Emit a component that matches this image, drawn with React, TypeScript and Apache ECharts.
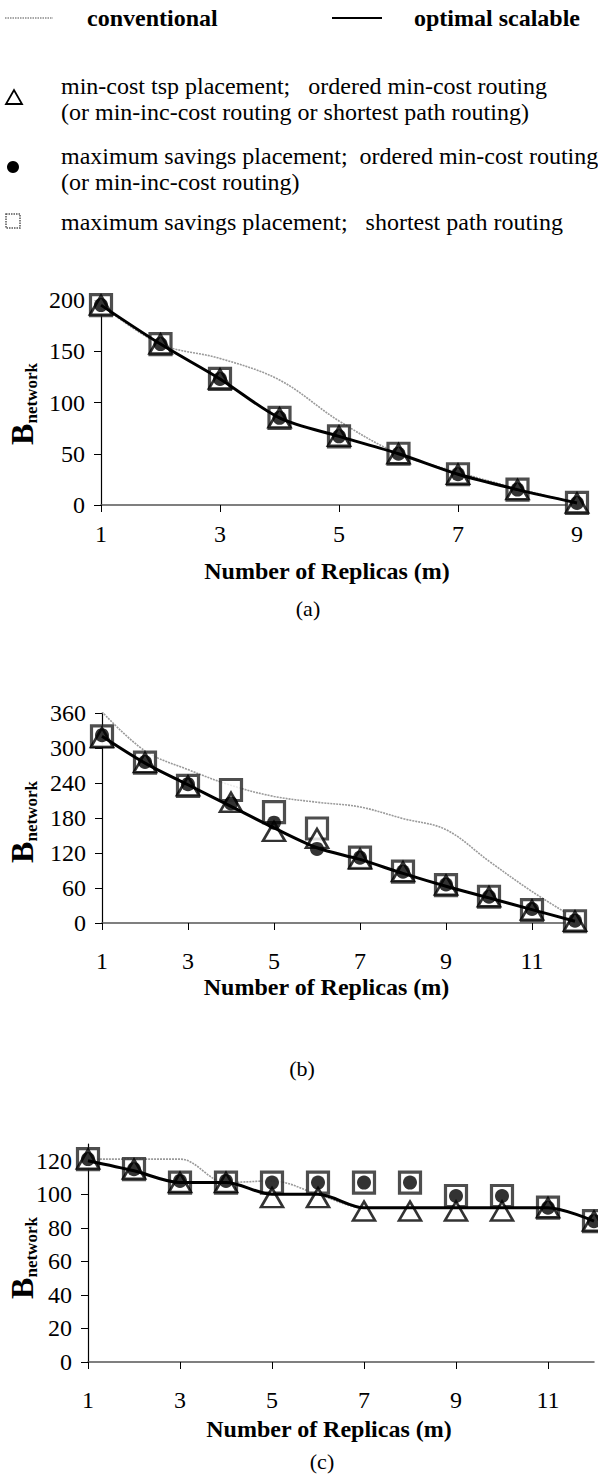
import React, { useEffect, useRef } from "react";
import * as echarts from "echarts";

// ---------- data ----------
const catsA = ["1", "2", "3", "4", "5", "6", "7", "8", "9"];
const convA = [195, 157, 143, 122, 82, 50, 32, 16, 2];
const optA = [195, 157, 123, 85, 67, 50, 30, 15, 2];
const triA = [195, 157, 123, 85, 67, 50, 30, 15, 2];
const cirA = [195, 157, 123, 85, 67, 50, 30, 15, 2];
const sqA = [195, 157, 123, 85, 67, 50, 30, 15, 2];

const catsB = ["1", "2", "3", "4", "5", "6", "7", "8", "9", "10", "11", "12"];
const convB = [362, 295, 263, 236, 217, 207, 199, 179, 160, 106, 54, 8];
const optB = [320, 274, 237, 200, 163, 129, 109, 85, 63, 43, 23, 3];
const triB = [318, 275, 235, 207, 157, 145, 110, 88, 65, 45, 22, 3];
const cirB = [322, 276, 238, 205, 172, 127, 112, 88, 66, 45, 24, 4];
const sqB = [320, 275, 235, 228, 190, 162, 112, 88, 65, 45, 22, 3];

const catsC = ["1", "2", "3", "4", "5", "6", "7", "8", "9", "10", "11", "12"];
const convC = [121, 121, 121, 107, 108, 100, 92, 92, 92, 92, 92, 84];
const optC = [120, 114, 107, 107, 100, 100, 92, 92, 92, 92, 92, 84];
const triC = [121, 115, 107, 107, 98, 98, 90, 90, 90, 90, 92, 84];
const cirC = [121, 115, 108, 108, 107, 107, 107, 107, 99, 99, 92, 84];
const sqC = [121, 115, 107, 107, 107, 107, 107, 107, 99, 99, 92, 84];

const yTicksA = [0, 50, 100, 150, 200];
const yTicksB = [0, 60, 120, 180, 240, 300, 360];
const yTicksC = [0, 20, 40, 60, 80, 100, 120];

const legendConventional = "conventional";
const legendOptimal = "optimal scalable";
const legendTri = ["min-cost tsp placement;   ordered min-cost routing", "(or min-inc-cost routing or shortest path routing)"];
const legendCir = ["maximum savings placement;  ordered min-cost routing", "(or min-inc-cost routing)"];
const legendSq = ["maximum savings placement;   shortest path routing"];
const xTitle = "Number of Replicas (m)";
const captions = ["(a)", "(b)", "(c)"];

const FONT = "'Liberation Serif', 'Times New Roman', serif";

export default function App() {
  const ref = useRef<HTMLDivElement>(null);

  useEffect(() => {
    document.body.style.margin = "0";
    const chart = echarts.init(ref.current!, null, { renderer: "svg" });

    const grids = [
      { left: 101, top: 300, width: 476, height: 205 },
      { left: 102, top: 713, width: 473, height: 210 },
      { left: 88, top: 1144, width: 506, height: 218 },
    ];
    const cats = [catsA, catsB, catsC];
    const yMax = [200, 360, 130];
    const yInt = [50, 60, 20];
    const yTicks = [yTicksA, yTicksB, yTicksC];
    const labelMargins = [17, 26, 26];
    const nameGaps = [54, 52, 55];

    const xAxes = grids.map((_, i) => ({
      gridIndex: i,
      type: "category",
      data: cats[i],
      boundaryGap: false,
      axisLine: { lineStyle: { color: "#555", width: 1.5 } },
      axisTick: { show: true, interval: 1, length: 7, lineStyle: { color: "#000", width: 1 } },
      axisLabel: { interval: 1, margin: labelMargins[i], fontSize: 24, color: "#000", fontFamily: FONT },
      splitLine: { show: false },
      name: xTitle,
      nameLocation: "middle",
      nameGap: nameGaps[i],
      nameTextStyle: { fontSize: 24, fontWeight: "bold", color: "#000", fontFamily: FONT, padding: [0, 24, 0, 0] },
    }));

    const yAxes = grids.map((_, i) => ({
      gridIndex: i,
      type: "value",
      min: 0,
      max: yMax[i],
      interval: yInt[i],
      axisLine: { show: true, lineStyle: { color: "#000", width: 1.2 } },
      axisTick: { show: true, length: 7, customValues: yTicks[i], lineStyle: { color: "#000", width: 1 } },
      axisLabel: {
        margin: 16,
        fontSize: 24,
        color: "#000",
        fontFamily: FONT,
        customValues: yTicks[i],
        formatter: (v: number) => (v > yTicks[i][yTicks[i].length - 1] ? "" : String(v)),
      },
      splitLine: { show: false },
    }));

    const sets = [
      [convA, optA, triA, cirA, sqA],
      [convB, optB, triB, cirB, sqB],
      [convC, optC, triC, cirC, sqC],
    ];
    const series: any[] = [];
    sets.forEach(([conv, opt, tri, cir, sq], i) => {
      series.push({
        type: "line", name: legendConventional, xAxisIndex: i, yAxisIndex: i, data: conv,
        smooth: 0.35, symbol: "none", z: 1,
        lineStyle: { color: "#9a9a9a", width: 1.6, type: [2, 1] },
      });
      series.push({
        type: "scatter", name: "square", xAxisIndex: i, yAxisIndex: i, data: sq,
        symbol: "rect", symbolSize: 21, z: 2,
        itemStyle: { color: "#fff", borderColor: "#222", borderWidth: 3.2 },
      });
      series.push({
        type: "scatter", name: "triangle", xAxisIndex: i, yAxisIndex: i, data: tri,
        symbol: "triangle", symbolSize: [22, 19], z: 3,
        itemStyle: { color: "#fff", borderColor: "#000", borderWidth: 2.6 },
      });
      series.push({
        type: "line", name: legendOptimal, xAxisIndex: i, yAxisIndex: i, data: opt,
        smooth: 0.3, symbol: "none", z: 4,
        lineStyle: { color: "#000", width: 3 },
      });
      series.push({
        type: "scatter", name: "circle", xAxisIndex: i, yAxisIndex: i, data: cir,
        symbol: "circle", symbolSize: 14, z: 5,
        itemStyle: { color: "#000" },
      });
    });

    const txt = (text: string, x: number, y: number, size: number, bold = false, align = "left") => ({
      type: "text",
      x,
      y,
      style: {
        text,
        fill: "#000",
        fontSize: size,
        fontWeight: bold ? "bold" : "normal",
        fontFamily: FONT,
        align,
        verticalAlign: "middle",
      },
    });

    const yTitle = (x: number, y: number) => ({
      type: "text",
      x,
      y,
      rotation: Math.PI / 2,
      style: {
        text: "{b|B}{s|network}",
        fill: "#000",
        fontFamily: FONT,
        align: "center",
        verticalAlign: "middle",
        rich: {
          b: { fontSize: 32, fontWeight: "bold", fontFamily: FONT, verticalAlign: "bottom", lineHeight: 32 },
          s: { fontSize: 17, fontWeight: "bold", fontFamily: FONT, verticalAlign: "bottom", lineHeight: 32, padding: [0, 0, -2, 0] },
        },
      },
    });

    const graphic: any[] = [
      { type: "line", shape: { x1: 5, y1: 18, x2: 53, y2: 18 }, style: { stroke: "#8a8a8a", lineWidth: 1.5, lineDash: [1.5, 1] } },
      txt(legendConventional, 87, 18, 24, true),
      { type: "line", shape: { x1: 332, y1: 18, x2: 382, y2: 18 }, style: { stroke: "#000", lineWidth: 2 } },
      txt(legendOptimal, 414, 18, 24, true),
      { type: "polygon", shape: { points: [[6, 104], [22, 104], [14, 90]] }, style: { fill: "none", stroke: "#000", lineWidth: 1.8 } },
      txt(legendTri[0], 61, 86, 24),
      txt(legendTri[1], 61, 112, 24),
      { type: "circle", shape: { cx: 13, cy: 167, r: 6 }, style: { fill: "#000" } },
      txt(legendCir[0], 61, 156, 24),
      txt(legendCir[1], 61, 182, 24),
      { type: "rect", shape: { x: 6, y: 214, width: 14, height: 14 }, style: { fill: "none", stroke: "#555", lineWidth: 1.5, lineDash: [1.5, 1] } },
      txt(legendSq[0], 61, 222, 24),
      yTitle(22, 404),
      yTitle(22, 822),
      yTitle(22, 1258),
      txt(captions[0], 308, 608, 22, false, "center"),
      txt(captions[1], 302, 1068, 22, false, "center"),
      txt(captions[2], 322, 1461, 22, false, "center"),
    ];

    chart.setOption({
      animation: false,
      backgroundColor: "#fff",
      textStyle: { fontFamily: FONT },
      grid: grids.map((g) => ({ ...g, containLabel: false })),
      xAxis: xAxes,
      yAxis: yAxes,
      series,
      graphic,
    });

    return () => chart.dispose();
  }, []);

  return <div ref={ref} style={{ width: 598, height: 1476 }} />;
}
